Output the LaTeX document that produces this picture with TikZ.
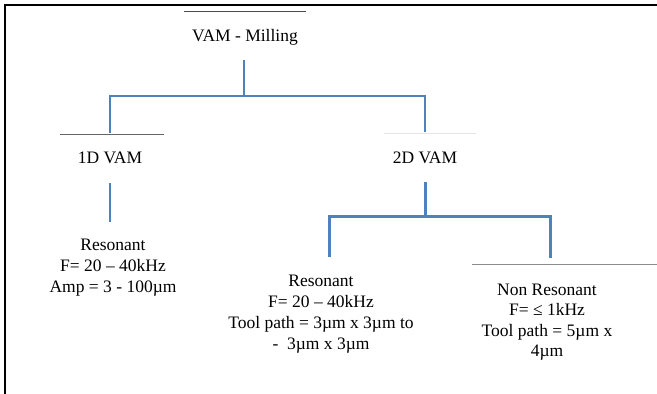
\documentclass[tikz,border=0pt]{standalone}
\usepackage{fontspec}
\setmainfont{Liberation Serif}
\definecolor{vblue}{RGB}{79,129,189}
\begin{document}
\begin{tikzpicture}[x=1pt,y=-1pt,
  txt/.style={inner sep=0pt, align=center, font=\fontsize{17.5}{21}\selectfont},
  hdr/.style 2 args={txt, text height=#1, text depth=#2, anchor=base},
  conn/.style={draw=vblue, line width=2pt},
  connb/.style={draw=vblue, line width=3pt},
  rule/.style={line width=1pt}]
\useasboundingbox (0,0) rectangle (657,394);
% frame
\draw[line width=1.5pt] (5,394) -- (5,5) -- (657,5);
% headers
\node[hdr={29pt}{19pt}, minimum width=122pt] (root) at (245,41) {VAM - Milling};
\node[hdr={28pt}{20pt}, minimum width=103pt] (d1) at (110,163) {1D VAM};
\node[hdr={29pt}{19pt}, minimum width=92pt] (d2) at (425,163) {2D VAM};
\draw[rule, black!70] (root.north west) -- (root.north east);
\draw[rule, black!60] ([xshift=2pt]d1.north west) -- ([xshift=2pt]d1.north east);
\draw[rule, black!10] ([xshift=5pt]d2.north west) -- ([xshift=5pt]d2.north east);
% leaves
\node[txt, anchor=north, inner ysep=16.5pt] (r1) at (113,222) {Resonant\\F= 20 – 40kHz\\Amp = 3 - 100µm};
\node[txt, anchor=north, inner ysep=17.5pt] (r2) at (321,257) {Resonant\\F= 20 – 40kHz\\Tool path = 3µm x 3µm to\\-\ \ 3µm x 3µm};
\node[txt, anchor=north, inner ysep=19.5pt, font=\fontsize{17.5}{20.5}\selectfont] (r3) at (547,264) {Non Resonant\\F= ≤ 1kHz\\Tool path = 5µm x\\4µm};
\draw[rule, black!45] ([xshift=-75pt]r3.north) -- ([xshift=110pt]r3.north);
% junctions
\coordinate (j0) at (244,96);
\coordinate (j2) at (425,216);
\coordinate (e2) at (329,257);
\coordinate (e3) at (550,258);
% connectors
\draw[conn] ([xshift=-1pt]root.south) -- (j0);
\draw[conn] ([yshift=2pt]d1.north) |- (j0) -| ([yshift=2pt]d2.north);
\draw[conn] (d1.south) -- (d1.south |- r1.north);
\draw[connb] (d2.south) -- (j2);
\draw[connb] (e2) |- (j2) -| (e3);
\end{tikzpicture}
\end{document}
